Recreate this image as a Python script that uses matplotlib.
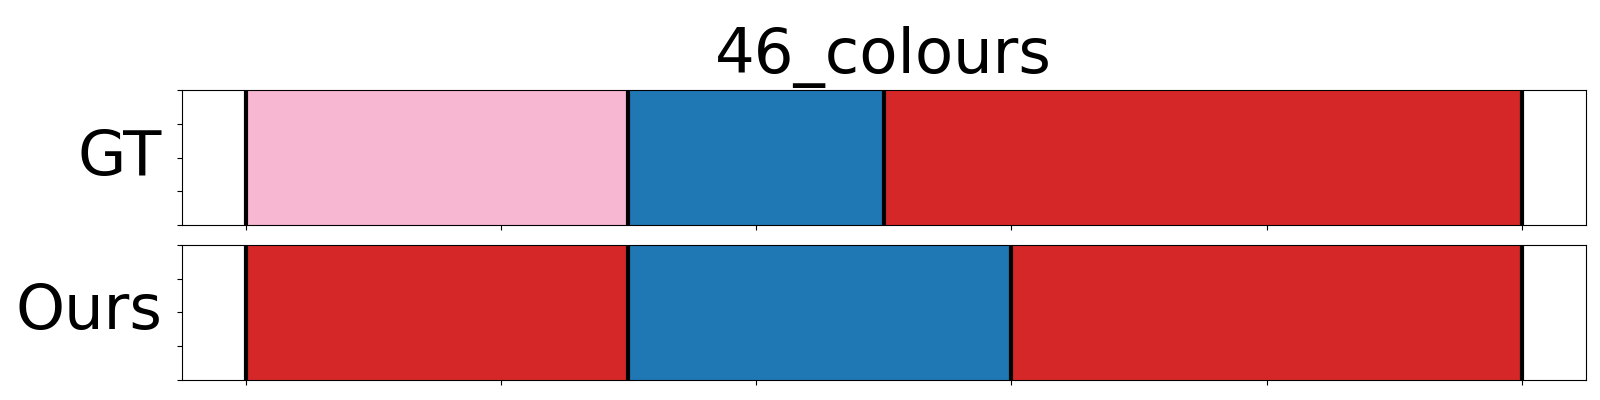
import numpy as np
import matplotlib
matplotlib.use("Agg")
from matplotlib import pyplot as plt

title = "46_colours"
row_names = ["GT", "Ours"]

# segment boundaries and colours for each row
gt_bounds = [0.0, 1.5, 2.5, 5.0]
gt_colors = ["#f7b6d2", "#1f77b4", "#d62728"]

ours_bounds = [0.0, 1.5, 3.0, 5.0]
ours_colors = ["#d62728", "#1f77b4", "#d62728"]

rows = [(gt_bounds, gt_colors), (ours_bounds, ours_colors)]

fig, axes = plt.subplots(2, 1, figsize=(16, 4), dpi=100)
fig.subplots_adjust(left=0.1136, right=0.991, top=0.775, bottom=0.05, hspace=0.148)

for ax, name, (bounds, colors) in zip(axes, row_names, rows):
    for i in range(len(colors)):
        ax.axvspan(bounds[i], bounds[i + 1], color=colors[i], ec=colors[i], lw=1)
    for b in bounds:
        ax.axvline(b, color="black", lw=3)
    ax.set_xlim(-0.25, 5.25)
    ax.set_ylim(0, 1)
    ax.set_xticks(np.arange(0, 6))
    ax.set_yticks([0, 0.25, 0.5, 0.75, 1.0])
    ax.set_xticklabels([])
    ax.set_yticklabels([])
    ax.set_ylabel(name, rotation=0, fontsize=45, ha="right", va="center", labelpad=7)

axes[0].set_title(title, fontsize=45, pad=12)

plt.savefig("out.png")
